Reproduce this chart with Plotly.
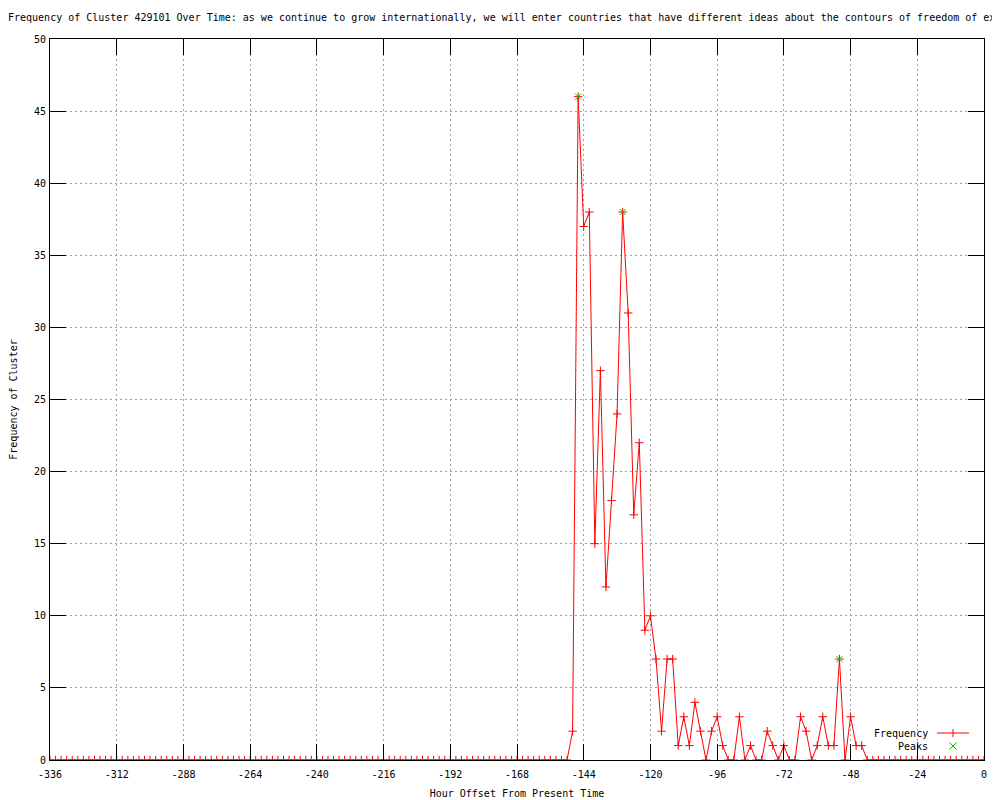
import plotly.graph_objects as go

TITLE = ("Frequency of Cluster 429101 Over Time: as we continue to grow internationally, "
         "we will enter countries that have different ideas about the contours of freedom of expression.")

hours = [
    -336, -334, -332, -330, -328, -326, -324, -322, -320, -318, -316, -314,
    -312, -310, -308, -306, -304, -302, -300, -298, -296, -294, -292, -290,
    -288, -286, -284, -282, -280, -278, -276, -274, -272, -270, -268, -266,
    -264, -262, -260, -258, -256, -254, -252, -250, -248, -246, -244, -242,
    -240, -238, -236, -234, -232, -230, -228, -226, -224, -222, -220, -218,
    -216, -214, -212, -210, -208, -206, -204, -202, -200, -198, -196, -194,
    -192, -190, -188, -186, -184, -182, -180, -178, -176, -174, -172, -170,
    -168, -166, -164, -162, -160, -158, -156, -154, -152, -150, -148, -146,
    -144, -142, -140, -138, -136, -134, -132, -130, -128, -126, -124, -122,
    -120, -118, -116, -114, -112, -110, -108, -106, -104, -102, -100, -98,
    -96, -94, -92, -90, -88, -86, -84, -82, -80, -78, -76, -74,
    -72, -70, -68, -66, -64, -62, -60, -58, -56, -54, -52, -50,
    -48, -46, -44, -42, -40, -38, -36, -34, -32, -30, -28, -26,
    -24, -22, -20, -18, -16, -14, -12, -10, -8, -6, -4, -2,
    0,
]

frequency = [
    0, 0, 0, 0, 0, 0, 0, 0, 0, 0, 0, 0,
    0, 0, 0, 0, 0, 0, 0, 0, 0, 0, 0, 0,
    0, 0, 0, 0, 0, 0, 0, 0, 0, 0, 0, 0,
    0, 0, 0, 0, 0, 0, 0, 0, 0, 0, 0, 0,
    0, 0, 0, 0, 0, 0, 0, 0, 0, 0, 0, 0,
    0, 0, 0, 0, 0, 0, 0, 0, 0, 0, 0, 0,
    0, 0, 0, 0, 0, 0, 0, 0, 0, 0, 0, 0,
    0, 0, 0, 0, 0, 0, 0, 0, 0, 0, 2, 46,
    37, 38, 15, 27, 12, 18, 24, 38, 31, 17, 22, 9,
    10, 7, 2, 7, 7, 1, 3, 1, 4, 2, 0, 2,
    3, 1, 0, 0, 3, 0, 1, 0, 0, 2, 1, 0,
    1, 0, 0, 3, 2, 0, 1, 3, 1, 1, 7, 0,
    3, 1, 1, 0, 0, 0, 0, 0, 0, 0, 0, 0,
    0, 0, 0, 0, 0, 0, 0, 0, 0, 0, 0, 0,
    0,
]

peak_hours = [-146, -130, -52]
peak_values = [46, 38, 7]

x_tickvals = [-336, -312, -288, -264, -240, -216, -192, -168, -144, -120, -96, -72, -48, -24, 0]
x_ticktext = ["-336", "-312", "-288", "-264", "-240", "-216", "-192", "-168", "-144",
              "-120", "-96", "-72", "-48", "-24", "0"]
y_tickvals = [0, 5, 10, 15, 20, 25, 30, 35, 40, 45, 50]
y_ticktext = ["0", "5", "10", "15", "20", "25", "30", "35", "40", "45", "50"]

RED = "#ff0000"
GREEN = "#00c000"
FONT = "DejaVu Sans Mono"

fig = go.Figure()
fig.add_trace(go.Scatter(
    x=hours, y=frequency, mode="lines+markers", name="Frequency",
    line=dict(color=RED, width=1),
    marker=dict(symbol="cross-thin", size=6, color=RED, line=dict(color=RED, width=1)),
))
fig.add_trace(go.Scatter(
    x=peak_hours, y=peak_values, mode="markers", name="Peaks",
    marker=dict(symbol="x-thin", size=6, color=GREEN, line=dict(color=GREEN, width=1)),
))

# plot area in page pixels: x 50..984, y 39..760 (page body has an 8px margin)
def px(xp):
    return (xp - 50) / 934.0

def py(yp):
    return (760 - yp) / 721.0

shapes = [
    dict(type="line", xref="paper", yref="paper", x0=px(937), x1=px(969), y0=py(733), y1=py(733),
         line=dict(color=RED, width=1)),
    dict(type="line", xref="paper", yref="paper", x0=px(953), x1=px(953), y0=py(737), y1=py(729),
         line=dict(color=RED, width=1)),
    dict(type="line", xref="paper", yref="paper", x0=px(949.5), x1=px(956.5), y0=py(742.5), y1=py(749.5),
         line=dict(color=GREEN, width=1)),
    dict(type="line", xref="paper", yref="paper", x0=px(949.5), x1=px(956.5), y0=py(749.5), y1=py(742.5),
         line=dict(color=GREEN, width=1)),
]
annotations = [
    dict(text="Frequency", xref="paper", yref="paper", x=px(930), y=py(733), xanchor="right",
         yanchor="middle", showarrow=False, font=dict(family=FONT, size=10, color="black")),
    dict(text="Peaks", xref="paper", yref="paper", x=px(930), y=py(746), xanchor="right",
         yanchor="middle", showarrow=False, font=dict(family=FONT, size=10, color="black")),
]

axis_common = dict(
    ticks="inside", ticklen=16, tickwidth=1, tickcolor="black",
    showline=True, linecolor="black", linewidth=1, mirror="ticks",
    showgrid=True, gridcolor="#a0a0a0", gridwidth=1, griddash="2px,3px",
    zeroline=False, automargin=False,
    tickfont=dict(family=FONT, size=10, color="black"),
)

W, H = 992, 792

fig.update_layout(
    width=W, height=H,
    margin=dict(l=42, r=16, t=31, b=40, autoexpand=False),
    paper_bgcolor="white", plot_bgcolor="white",
    showlegend=False,
    font=dict(family=FONT, size=10, color="black"),
    title=dict(text=TITLE, x=0, xanchor="left", xref="container",
               y=1 - 9 / H, yanchor="middle", yref="container",
               font=dict(family=FONT, size=10, color="black")),
    xaxis=dict(range=[-336, 0], tickmode="array", tickvals=x_tickvals, ticktext=x_ticktext,
               ticklabelstandoff=5,
               title=dict(text="Hour Offset From Present Time", standoff=10,
                          font=dict(family=FONT, size=10, color="black")),
               **axis_common),
    yaxis=dict(range=[0, 50], tickmode="array", tickvals=y_tickvals, ticktext=y_ticktext,
               ticklabelstandoff=1,
               title=dict(text="Frequency of Cluster", standoff=14,
                          font=dict(family=FONT, size=10, color="black")),
               **axis_common),
    shapes=shapes,
    annotations=annotations,
)

fig.write_html("out.html")
